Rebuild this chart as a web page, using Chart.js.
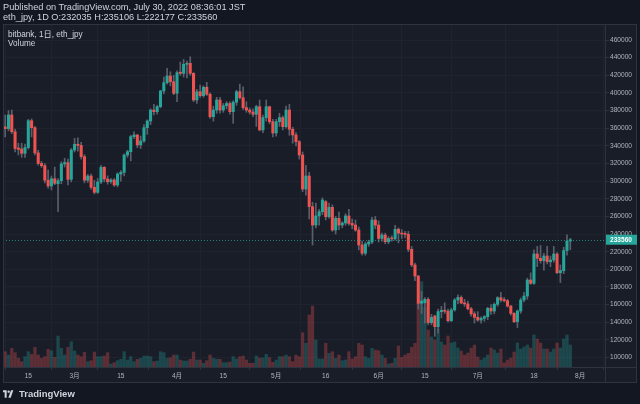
<!DOCTYPE html>
<html><head><meta charset="utf-8">
<script src="https://cdn.jsdelivr.net/npm/chart.js@4.4.1/dist/chart.umd.min.js"></script>
<style>
html,body{margin:0;padding:0;background:#131722;width:640px;height:404px;overflow:hidden}
#wrap{position:relative;width:640px;height:404px}
canvas{position:absolute;left:0;top:0}
.t{position:absolute;white-space:nowrap;color:#d1d4dc;font-family:"Liberation Sans","Noto Sans CJK JP",sans-serif;line-height:1}
</style></head><body>
<div id="wrap">
<canvas id="c" width="640" height="404"></canvas>
<div class="t" style="left:3px;top:3px;font-size:9.2px">Published on TradingView.com, July 30, 2022 08:36:01 JST</div>
<div class="t" style="left:3px;top:13px;font-size:9.2px">eth_jpy, 1D O:232035 H:235106 L:222177 C:233560</div>
<div class="t" style="left:8px;top:31px;font-size:8.2px">bitbank, 1日, eth_jpy</div>
<div class="t" style="left:8px;top:40px;font-size:8.2px">Volume</div>
<div class="t" style="left:3px;top:389px;font-size:9.5px;font-weight:bold;display:flex;align-items:center">
<svg width="12" height="8" viewBox="0 0 36 22" style="margin-right:4px"><path d="M0 0H11V22H5V6H0Z" fill="#d1d4dc"/><circle cx="17" cy="4" r="3.6" fill="#d1d4dc"/><path d="M24 0H31L23 22H16Z" fill="#d1d4dc"/></svg>TradingView</div>
</div>
<script>
const dates = ['2/8','2/9','2/10','2/11','2/12','2/13','2/14','2/15','2/16','2/17','2/18','2/19','2/20','2/21','2/22','2/23','2/24','2/25','2/26','2/27','2/28',
'3/1','3/2','3/3','3/4','3/5','3/6','3/7','3/8','3/9','3/10','3/11','3/12','3/13','3/14','3/15','3/16','3/17','3/18','3/19','3/20','3/21','3/22','3/23','3/24','3/25','3/26','3/27','3/28','3/29','3/30','3/31',
'4/1','4/2','4/3','4/4','4/5','4/6','4/7','4/8','4/9','4/10','4/11','4/12','4/13','4/14','4/15','4/16','4/17','4/18','4/19','4/20','4/21','4/22','4/23','4/24','4/25','4/26','4/27','4/28','4/29','4/30',
'5/1','5/2','5/3','5/4','5/5','5/6','5/7','5/8','5/9','5/10','5/11','5/12','5/13','5/14','5/15','5/16','5/17','5/18','5/19','5/20','5/21','5/22','5/23','5/24','5/25','5/26','5/27','5/28','5/29','5/30','5/31',
'6/1','6/2','6/3','6/4','6/5','6/6','6/7','6/8','6/9','6/10','6/11','6/12','6/13','6/14','6/15','6/16','6/17','6/18','6/19','6/20','6/21','6/22','6/23','6/24','6/25','6/26','6/27','6/28','6/29','6/30',
'7/1','7/2','7/3','7/4','7/5','7/6','7/7','7/8','7/9','7/10','7/11','7/12','7/13','7/14','7/15','7/16','7/17','7/18','7/19','7/20','7/21','7/22','7/23','7/24','7/25','7/26','7/27','7/28','7/29'];

const open = [361500,359500,375000,356000,337500,336500,331500,338000,368500,360600,332000,320000,317500,301000,294500,302700,297000,300500,319500,321000,302000,
335300,341800,340500,327700,301000,305800,293000,287300,299000,315600,302400,299300,301300,295600,308000,310000,329600,333400,350400,352300,341000,345500,360600,368200,380600,378700,384400,402200,411600,419200,412700,
399600,423500,422200,432400,433500,422200,392000,401400,396900,406400,398500,373000,380600,392000,380600,385500,388000,378700,389500,401400,394600,383300,380600,378300,375800,384400,358000,372000,384400,367400,
354600,367400,372000,361700,380600,358800,352300,344700,329600,291000,305800,271000,250200,260500,265300,276700,259700,270300,244600,257800,250200,252500,260500,252000,250200,244600,227600,218200,228700,231000,255900,
250200,235000,238900,231300,235000,234500,245400,241000,240000,239700,222700,205000,192400,161500,162000,166000,139500,147000,135000,152000,153500,152500,141800,154000,165200,168100,161800,160800,155300,149500,
145600,142500,144500,146300,155800,152700,160300,167800,165200,164400,158400,150100,140600,152700,165200,169700,187900,184100,217400,212500,209800,215100,208600,210600,217400,196200,198500,221300,232035];

const high = [375000,380000,380600,359000,343000,343000,342000,370000,370500,362000,335000,322500,320000,312600,305800,316000,303000,322000,326000,325000,337000,
348500,349000,344000,330000,307500,308000,301000,303000,318000,316500,306000,303000,303000,309500,312000,331000,335000,352000,356000,353000,351000,364000,369500,382000,387000,386000,403000,418000,428000,424000,420000,
425000,435000,438000,436000,441000,423000,404000,409000,408000,412000,400000,385000,395000,395000,388000,390000,390000,391000,403000,410000,407000,390000,383000,382000,386000,392000,375000,392000,385000,370000,
370000,377000,374000,385000,387000,361000,355000,346000,333000,318000,310000,276000,275000,268000,281000,278000,275000,273000,260000,265000,254000,263000,268000,257000,256000,248000,232000,231000,233000,259000,260000,
255000,241000,241000,237000,238000,250000,247000,245000,243000,243000,226000,207000,193000,175000,168000,168000,149000,148000,155000,158000,162000,155000,156000,167000,171000,170000,166000,164000,157000,152000,
152000,146000,147500,157000,160000,162000,169000,174000,168000,166000,159000,151000,154000,167500,174000,190000,196000,222000,226000,227000,218000,226000,215000,226000,219000,205000,225000,239000,235106];

const low = [350000,357000,354000,333000,329600,327000,327000,336400,350000,329600,318000,315500,298000,292000,290000,296000,265300,297000,316000,295600,299000,
333000,334000,325000,298000,298500,291000,285400,286000,297000,299000,296500,297500,294000,293500,300000,306000,327000,323000,348000,338000,337000,344000,353000,364000,375000,376000,383000,399000,410000,408000,398000,
390000,420000,418000,417000,420000,390000,388000,395000,395000,397000,371000,368000,377000,377000,378000,382000,376000,365600,386000,393000,381000,378000,376000,373000,362000,357000,355000,368000,365000,350000,
351000,362000,358000,360000,352000,343000,340000,325000,288000,284000,257000,227600,247000,250000,262000,256000,258000,243000,240000,245000,247000,250000,250000,246000,243000,222000,216000,216000,226000,229000,246000,
231000,232000,229000,229000,232000,233000,230000,235000,236000,220000,203000,187000,155000,150000,139000,137000,137000,124000,128000,145000,150000,140000,140500,152500,161000,161000,158000,154000,147000,139000,
141000,139000,141000,143000,149000,149500,158000,163000,163000,157000,148000,139500,134000,150000,163000,166000,183000,183000,203000,207000,199000,206000,203000,208000,195000,185000,195000,216000,222177];

const close = [359500,375000,356000,337000,336000,331500,338000,368500,360600,332000,320000,317500,301000,294500,302700,297500,300500,319500,321000,302000,335300,
341800,340500,327700,301000,305800,293000,287300,299000,315600,302400,299300,301300,295600,308000,310000,329600,333400,350400,352300,341000,345500,360600,368200,380600,378700,384400,402200,411600,419200,412700,399600,
423000,422200,432400,433500,422200,392000,401400,396900,406400,398500,373000,380600,392000,380600,385500,388000,378700,389500,401400,394600,383300,380600,378300,375800,384400,358000,372000,384400,367400,354600,
367400,372000,361700,380600,358800,352300,344700,329600,291000,305800,271000,250200,260500,265300,278600,259700,270300,244600,257800,250200,252500,260500,252000,250200,244600,227600,218200,228700,231000,255900,250200,
235000,238900,231300,235000,234500,245400,241000,240000,239700,222700,205000,192400,161500,164000,166000,139500,145500,135000,152000,153500,152500,141800,154000,165200,168100,161800,160800,155300,149500,145600,
142500,144500,146300,155800,152700,160300,167800,165200,164400,158400,150100,140600,152700,165200,169700,187900,184100,217400,212500,209800,215100,208600,210600,217400,196200,198500,221300,232000,233560];

const volume = [1530,1200,1870,1430,870,530,1030,1530,1270,1970,1200,870,1030,1770,1630,970,3100,1870,1200,1970,2530,
1600,1200,1030,1470,530,630,1500,1030,1030,1100,1430,300,430,630,770,1530,700,1030,530,770,870,1100,1100,1030,530,600,1530,1430,870,930,1200,
1200,700,600,600,770,1500,700,700,370,630,1200,870,770,770,430,430,500,1030,800,1030,1100,700,370,370,1100,900,900,1270,930,470,
700,1030,1030,1200,1030,530,1200,1030,3430,2370,5200,6100,2700,800,800,2370,1370,1530,870,1200,630,700,1530,800,1030,2370,2200,1030,870,1870,1700,
1630,1200,870,300,370,870,2100,970,1200,1370,1970,2370,6370,8530,6000,3700,3000,2700,3800,2500,2200,3100,2400,2500,1900,1600,1200,1400,1900,2200,
1000,700,900,1200,1900,1700,1400,1800,400,700,900,1500,2400,1800,2000,2200,1900,3200,2800,2400,1800,1800,1500,1800,2400,1900,2800,3200,2200];

const tickDates = ['2/15','3/1','3/15','4/1','4/15','5/1','5/16','6/1','6/15','7/1','7/18','8/1'];
const tickLabels = ['15','3月','15','4月','15','5月','16','6月','15','7月','18','8月'];
const priceTicks = [100000,120000,140000,160000,180000,200000,220000,240000,260000,280000,300000,320000,340000,360000,380000,400000,420000,440000,460000];

function dayOf(md){const p=md.split('/').map(Number);return Math.round((Date.UTC(2022,p[0]-1,p[1])-Date.UTC(2022,1,15))/864e5);}
const xs = dates.map(dayOf);
const tickDays = tickDates.map(dayOf);
const lastPrice = close[close.length-1];

const UP='#26a69a', DOWN='#ef5350';
const GRID='#1f2330', AXIS='#2f3340', TXT='#b2b5be', PANE='#191d28', BG='#131722';
const FONT="'Liberation Sans','Noto Sans CJK JP',sans-serif";
const isUp = i => close[i] >= open[i];

const overlay = {
  id:'overlay',
  beforeDraw(c){const g=c.ctx;g.save();g.fillStyle=BG;g.fillRect(0,0,640,404);g.fillStyle=PANE;g.fillRect(3,24,634,359);g.restore();},
  afterDatasetsDraw(c){
    const g=c.ctx,a=c.chartArea,y=Math.round(c.scales.y.getPixelForValue(lastPrice))+0.5;
    g.save();g.strokeStyle='rgba(38,166,154,0.75)';g.lineWidth=1;g.setLineDash([1,2]);
    g.beginPath();g.moveTo(a.left,y);g.lineTo(a.right,y);g.stroke();g.restore();
  },
  afterDraw(c){
    const g=c.ctx,a=c.chartArea;
    g.save();g.strokeStyle=AXIS;g.lineWidth=1;
    g.beginPath();g.moveTo(3,a.bottom+0.5);g.lineTo(637,a.bottom+0.5);g.stroke();
    g.beginPath();g.moveTo(a.right+0.5,24);g.lineTo(a.right+0.5,383);g.stroke();
    g.strokeRect(3.5,24.5,633,358);
    const y=c.scales.y.getPixelForValue(lastPrice);
    g.fillStyle=UP;g.fillRect(a.right+1,y-5,31,10);
    g.fillStyle='#ffffff';g.font='bold 6.6px '+FONT;g.textBaseline='middle';g.textAlign='left';
    g.fillText(String(lastPrice),a.right+5,y+0.5);
    g.restore();
  }
};

new Chart(document.getElementById('c'),{
  type:'bar',
  data:{datasets:[
    {label:'Volume',yAxisID:'v',order:3,barThickness:2.6,
     data:xs.map((x,i)=>({x,y:volume[i]})),
     backgroundColor:xs.map((_,i)=>isUp(i)?'rgba(38,166,154,0.32)':'rgba(239,83,80,0.32)')},
    {label:'wick',yAxisID:'y',order:2,barThickness:1,
     data:xs.map((x,i)=>({x,y:[low[i],high[i]]})),backgroundColor:'#5b5f6c'},
    {label:'body',yAxisID:'y',order:1,barThickness:2.4,minBarLength:1,
     data:xs.map((x,i)=>({x,y:[open[i],close[i]]})),
     backgroundColor:xs.map((_,i)=>isUp(i)?UP:DOWN)}
  ]},
  options:{
    responsive:false,animation:false,devicePixelRatio:1,
    layout:{padding:{left:3,top:24,right:0,bottom:21}},
    datasets:{bar:{grouped:false,borderWidth:0}},
    plugins:{legend:{display:false},tooltip:{enabled:false}},
    events:[],
    scales:{
      x:{type:'linear',min:-7.655,max:174.5,offset:false,
         afterBuildTicks:s=>{s.ticks=tickDays.map(v=>({value:v}));},
         afterFit:s=>{s.height=16;},
         grid:{color:GRID,tickColor:AXIS,tickLength:3},
         border:{display:false},
         ticks:{color:TXT,font:{family:FONT,size:6.6},padding:2,maxRotation:0,autoSkip:false,callback:(v,i)=>tickLabels[i]}},
      y:{position:'right',min:89252,max:478141,
         afterBuildTicks:s=>{s.ticks=priceTicks.map(v=>({value:v}));},
         afterFit:s=>{s.width=35;},
         grid:{color:GRID,tickColor:AXIS,tickLength:4},
         border:{display:false},
         ticks:{color:TXT,font:{family:FONT,size:6.6},padding:1,callback:v=>String(v)}},
      v:{display:false,min:0,max:34300}
    }
  },
  plugins:[overlay]
});
</script>
</body></html>
